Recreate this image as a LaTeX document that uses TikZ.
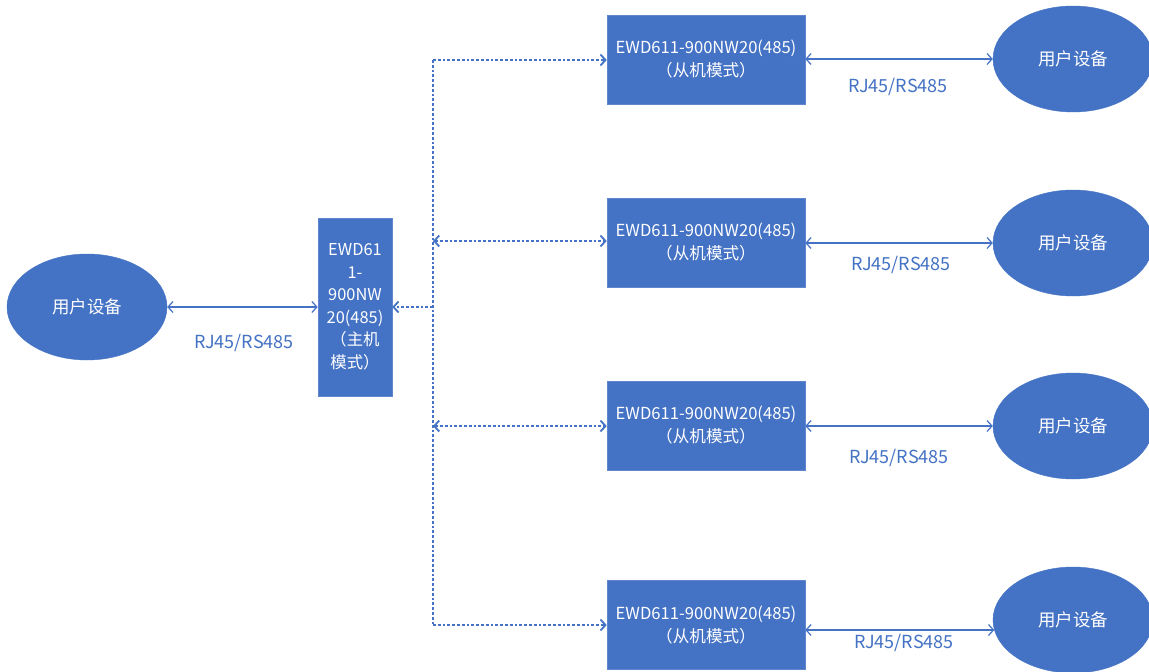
\documentclass[tikz,border=0pt]{standalone}
\usepackage{fontspec}
\setmainfont{Noto Sans CJK SC}
\usetikzlibrary{shapes.geometric,arrows.meta}
\definecolor{ofblue}{HTML}{4472C4}
\tikzset{
  boxnode/.style={draw=ofblue!85!white, line width=0.6pt, fill=ofblue, text=white, inner sep=0pt, font=\fontsize{16.6}{23}\selectfont, align=center},
  usernode/.style={ellipse, fill=ofblue, draw=ofblue, text=white, minimum width=160pt, minimum height=106pt, inner sep=0pt, font=\fontsize{17.5}{20}\selectfont},
  solidarr/.style={draw=ofblue, line width=1.2pt, {Straight Barb[length=5pt,width=11pt]}-{Straight Barb[length=5pt,width=11pt]}},
  dotline/.style={draw=ofblue, line width=1.8pt, dash pattern=on 2.8pt off 2pt},
  dotarr/.style={dotline, -{Straight Barb[length=5pt,width=11pt]}},
  dotarrb/.style={dotline, {Straight Barb[length=5pt,width=11pt]}-{Straight Barb[length=5pt,width=11pt]}},
  lbl/.style={text=ofblue, font=\fontsize{18}{20}\selectfont, inner sep=0pt}
}
\begin{document}
\begin{tikzpicture}[x=1pt,y=-1pt]
\useasboundingbox (0,0) rectangle (1149,672);
\fill[white] (0,0) rectangle (1149,672);
% left user device and master
\node[usernode] (u0) at (87,307) {用户设备};
\node[boxnode, minimum width=74pt, minimum height=178pt, font=\fontsize{16.4}{22.5}\selectfont] (m) at (355,307) {EWD61\\1-\\900NW\\20(485)\\（主机\\模式）};
% slaves
\node[boxnode, minimum width=198pt, minimum height=89pt] (s1) at (706,59.5) {EWD611-900NW20(485)\\（从机模式）};
\node[boxnode, minimum width=198pt, minimum height=89pt] (s2) at (706,242.5) {EWD611-900NW20(485)\\（从机模式）};
\node[boxnode, minimum width=198pt, minimum height=89pt] (s3) at (706,425.5) {EWD611-900NW20(485)\\（从机模式）};
\node[boxnode, minimum width=198pt, minimum height=89pt] (s4) at (706,624.5) {EWD611-900NW20(485)\\（从机模式）};
% right user devices
\node[usernode] (u1) at (1073,59) {用户设备};
\node[usernode] (u2) at (1073,243) {用户设备};
\node[usernode] (u3) at (1073,426) {用户设备};
\node[usernode] (u4) at (1073,620) {用户设备};
% bus coordinates
\coordinate (b1) at (433,60);
\coordinate (b2) at (433,241);
\coordinate (bm) at (433,307);
\coordinate (b3) at (433,426);
\coordinate (b4) at (433,625);
% dotted bus
\draw[dotline] (b1) -- (b4);
\draw[dotarr] (b1) -- (s1.west |- b1);
\draw[dotarrb] (b2) -- (s2.west |- b2);
\draw[dotarrb] (b3) -- (s3.west |- b3);
\draw[dotarr] (b4) -- (s4.west |- b4);
\draw[dotarr] (bm) -- (m.east |- bm);
% solid links
\draw[solidarr] (u0.east) -- (m.west);
\draw[solidarr] (s1.east |- u1.west) -- (u1.west);
\draw[solidarr] (s2.east |- u2.west) -- (u2.west);
\draw[solidarr] (s3.east |- u3.west) -- (u3.west);
\draw[solidarr] ([yshift=-5.5pt]s4.east) -- ([yshift=-10pt,xshift=1.5pt]u4.west);
% labels
\node[lbl] (l0) at (244,343) {RJ45/RS485};
\node[lbl] (l1) at (898,87) {RJ45/RS485};
\node[lbl] (l2) at (901,265) {RJ45/RS485};
\node[lbl] (l3) at (899,458) {RJ45/RS485};
\node[lbl] (l4) at (904,643) {RJ45/RS485};
\end{tikzpicture}
\end{document}
